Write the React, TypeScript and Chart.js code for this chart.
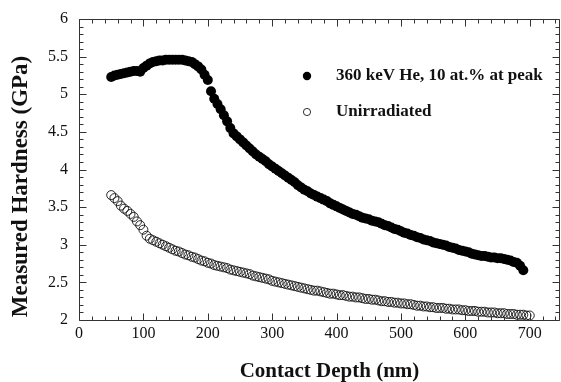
import React, { useEffect, useRef } from 'react';
import { Chart, registerables } from 'chart.js';

Chart.register(...registerables);

const seriesLabels = ['360 keV He, 10 at.% at peak', 'Unirradiated'];
const xTitle = 'Contact Depth (nm)';
const yTitle = 'Measured Hardness (GPa)';
const xTickLabels = [0, 100, 200, 300, 400, 500, 600, 700];
const yTickLabels = [2, 2.5, 3, 3.5, 4, 4.5, 5, 5.5, 6];

const depthIrradiated = [
  50, 55, 60, 65, 70, 75, 80, 85, 90, 95, 100, 105, 110, 115, 120, 125, 130, 135, 140, 145,
  150, 155, 160, 165, 170, 175, 180, 185, 190, 195, 200, 205, 210, 215, 220, 225, 230, 235, 240, 245,
  250, 255, 260, 265, 270, 275, 280, 285, 290, 295, 300, 305, 310, 315, 320, 325, 330, 335, 340, 345,
  350, 355, 360, 365, 370, 375, 380, 385, 390, 395, 400, 405, 410, 415, 420, 425, 430, 435, 440, 445,
  450, 455, 460, 465, 470, 475, 480, 485, 490, 495, 500, 505, 510, 515, 520, 525, 530, 535, 540, 545,
  550, 555, 560, 565, 570, 575, 580, 585, 590, 595, 600, 605, 610, 615, 620, 625, 630, 635, 640, 645,
  650, 655, 660, 665, 670, 675, 680, 685, 690,
];
const hardnessIrradiated = [
  5.23, 5.25, 5.26, 5.27, 5.28, 5.29, 5.30, 5.31, 5.31, 5.30, 5.35, 5.38, 5.41, 5.43, 5.44, 5.45, 5.45, 5.46, 5.46, 5.46,
  5.46, 5.46, 5.46, 5.45, 5.44, 5.43, 5.40, 5.37, 5.33, 5.26, 5.19, 5.04, 4.94, 4.87, 4.80, 4.72, 4.64, 4.55, 4.48, 4.44,
  4.40, 4.36, 4.32, 4.28, 4.24, 4.20, 4.17, 4.14, 4.11, 4.07, 4.04, 4.01, 3.98, 3.95, 3.92, 3.89, 3.86, 3.83, 3.79, 3.76,
  3.73, 3.71, 3.68, 3.66, 3.64, 3.62, 3.60, 3.58, 3.55, 3.53, 3.51, 3.49, 3.47, 3.45, 3.43, 3.41, 3.40, 3.38, 3.36, 3.35,
  3.34, 3.32, 3.31, 3.30, 3.28, 3.26, 3.25, 3.23, 3.21, 3.20, 3.18, 3.16, 3.15, 3.13, 3.12, 3.10, 3.09, 3.07, 3.06, 3.05,
  3.03, 3.02, 3.01, 3.00, 2.99, 2.97, 2.96, 2.95, 2.93, 2.92, 2.91, 2.90, 2.88, 2.87, 2.86, 2.85, 2.85, 2.84, 2.83, 2.83,
  2.82, 2.82, 2.81, 2.80, 2.79, 2.77, 2.76, 2.72, 2.66,
];

const depthUnirradiated = [
  50, 55, 60, 65, 70, 75, 80, 85, 90, 95, 100, 105, 110, 115, 120, 125, 130, 135, 140, 145,
  150, 155, 160, 165, 170, 175, 180, 185, 190, 195, 200, 205, 210, 215, 220, 225, 230, 235, 240, 245,
  250, 255, 260, 265, 270, 275, 280, 285, 290, 295, 300, 305, 310, 315, 320, 325, 330, 335, 340, 345,
  350, 355, 360, 365, 370, 375, 380, 385, 390, 395, 400, 405, 410, 415, 420, 425, 430, 435, 440, 445,
  450, 455, 460, 465, 470, 475, 480, 485, 490, 495, 500, 505, 510, 515, 520, 525, 530, 535, 540, 545,
  550, 555, 560, 565, 570, 575, 580, 585, 590, 595, 600, 605, 610, 615, 620, 625, 630, 635, 640, 645,
  650, 655, 660, 665, 670, 675, 680, 685, 690, 695, 700,
];
const hardnessUnirradiated = [
  3.66, 3.62, 3.58, 3.52, 3.48, 3.45, 3.41, 3.37, 3.31, 3.26, 3.20, 3.12, 3.08, 3.06, 3.04, 3.02, 3.00, 2.98, 2.96, 2.94,
  2.92, 2.91, 2.89, 2.87, 2.86, 2.84, 2.83, 2.81, 2.79, 2.78, 2.76, 2.75, 2.73, 2.72, 2.71, 2.70, 2.69, 2.67, 2.66, 2.65,
  2.64, 2.63, 2.62, 2.61, 2.59, 2.58, 2.57, 2.56, 2.55, 2.54, 2.52, 2.51, 2.50, 2.49, 2.48, 2.47, 2.46, 2.45, 2.44, 2.43,
  2.42, 2.41, 2.40, 2.39, 2.39, 2.38, 2.37, 2.36, 2.35, 2.35, 2.34, 2.33, 2.33, 2.32, 2.31, 2.31, 2.30, 2.30, 2.29, 2.28,
  2.28, 2.27, 2.27, 2.26, 2.25, 2.25, 2.24, 2.24, 2.23, 2.23, 2.22, 2.22, 2.21, 2.21, 2.20, 2.19, 2.19, 2.18, 2.18, 2.17,
  2.17, 2.16, 2.16, 2.16, 2.15, 2.15, 2.14, 2.14, 2.14, 2.13, 2.13, 2.12, 2.12, 2.12, 2.11, 2.11, 2.11, 2.10, 2.10, 2.10,
  2.09, 2.09, 2.09, 2.08, 2.08, 2.08, 2.07, 2.07, 2.07, 2.06, 2.06,
];

const SERIF = '"Liberation Serif", "Times New Roman", serif';

const framePlugin = {
  id: 'framePlugin',
  afterDraw(chart: any) {
    const { ctx, chartArea, scales } = chart;
    const { left, right, top, bottom } = chartArea;
    const xs = scales.x;
    const ys = scales.y;
    const L = Math.round(left) + 0.5;
    const R = Math.round(right) - 0.5;
    const T = Math.round(top) + 0.5;
    const B = Math.round(bottom) + 0.5;
    ctx.save();
    ctx.strokeStyle = '#333';
    ctx.lineWidth = 1;
    ctx.beginPath();
    ctx.moveTo(L, T); ctx.lineTo(R, T); ctx.lineTo(R, B); ctx.lineTo(L, B); ctx.closePath();
    ctx.stroke();

    // x ticks (inward), minor every 20
    ctx.beginPath();
    for (let v = 0; v <= xs.max; v += 20) {
      const px = Math.round(xs.getPixelForValue(v)) + 0.5;
      const len = v % 100 === 0 ? 7 : 4;
      ctx.moveTo(px, B); ctx.lineTo(px, B - len);
      ctx.moveTo(px, T); ctx.lineTo(px, T + len);
    }
    // y ticks, minor every 0.1
    for (let i = Math.round(ys.min * 10); i <= Math.round(ys.max * 10); i++) {
      const py = Math.round(ys.getPixelForValue(i / 10)) + 0.5;
      const len = i % 5 === 0 ? 7 : 4;
      ctx.moveTo(L, py); ctx.lineTo(L + len, py);
      ctx.moveTo(R, py); ctx.lineTo(R - len, py);
    }
    ctx.stroke();

    // tick labels
    ctx.fillStyle = '#111';
    ctx.font = `16px ${SERIF}`;
    ctx.textAlign = 'center';
    ctx.textBaseline = 'top';
    xTickLabels.forEach((v) => {
      ctx.fillText(String(v), xs.getPixelForValue(v), bottom + 6);
    });
    ctx.textAlign = 'right';
    ctx.textBaseline = 'middle';
    yTickLabels.forEach((v) => {
      ctx.fillText(String(v), left - 11, ys.getPixelForValue(v));
    });

    // axis titles
    ctx.font = `bold 21px ${SERIF}`;
    ctx.textAlign = 'center';
    ctx.textBaseline = 'middle';
    ctx.fillText(xTitle, (left + right) / 2 + 10, bottom + 52);
    ctx.save();
    ctx.font = `bold 23px ${SERIF}`;
    ctx.translate(left - 58, (top + bottom) / 2 + 17);
    ctx.rotate(-Math.PI / 2);
    ctx.fillText(yTitle, 0, 0);
    ctx.restore();

    // legend
    const lx = left + 228;
    const ly1 = top + 57;
    const ly2 = top + 93;
    ctx.fillStyle = '#000';
    ctx.beginPath();
    ctx.arc(lx, ly1, 4.2, 0, Math.PI * 2);
    ctx.fill();
    ctx.beginPath();
    ctx.arc(lx, ly2, 3.6, 0, Math.PI * 2);
    ctx.strokeStyle = '#000';
    ctx.lineWidth = 0.8;
    ctx.stroke();
    ctx.fillStyle = '#111';
    ctx.font = `bold 17px ${SERIF}`;
    ctx.textAlign = 'left';
    ctx.textBaseline = 'middle';
    ctx.fillText(seriesLabels[0], lx + 29, ly1);
    ctx.fillText(seriesLabels[1], lx + 29, ly2);
    ctx.restore();
  },
};

export default function App() {
  const canvasRef = useRef<HTMLCanvasElement | null>(null);

  useEffect(() => {
    document.body.style.margin = '0';
    const canvas = canvasRef.current;
    if (!canvas) return;
    const chart = new Chart(canvas, {
      type: 'scatter',
      data: {
        datasets: [
          {
            label: seriesLabels[0],
            data: depthIrradiated.map((d, i) => ({ x: d, y: hardnessIrradiated[i] })),
            pointRadius: 5,
            pointBackgroundColor: '#000',
            pointBorderColor: '#000',
            pointBorderWidth: 0,
            showLine: false,
          },
          {
            label: seriesLabels[1],
            data: depthUnirradiated.map((d, i) => ({ x: d, y: hardnessUnirradiated[i] })),
            pointRadius: 4.5,
            pointBackgroundColor: 'rgba(0,0,0,0)',
            pointBorderColor: '#111',
            pointBorderWidth: 0.9,
            showLine: false,
          },
        ],
      },
      options: {
        animation: false,
        responsive: false,
        events: [],
        layout: { autoPadding: false, padding: { left: 79, top: 19, right: 1, bottom: 62 } },
        plugins: { legend: { display: false }, tooltip: { enabled: false } },
        scales: {
          x: { type: 'linear', min: 0, max: 747, display: false },
          y: { type: 'linear', min: 2, max: 6, display: false },
        },
      },
      plugins: [framePlugin],
    });
    return () => chart.destroy();
  }, []);

  return (
    <div style={{ width: 561, height: 382, background: '#fff' }}>
      <canvas ref={canvasRef} width={561} height={382} />
    </div>
  );
}
